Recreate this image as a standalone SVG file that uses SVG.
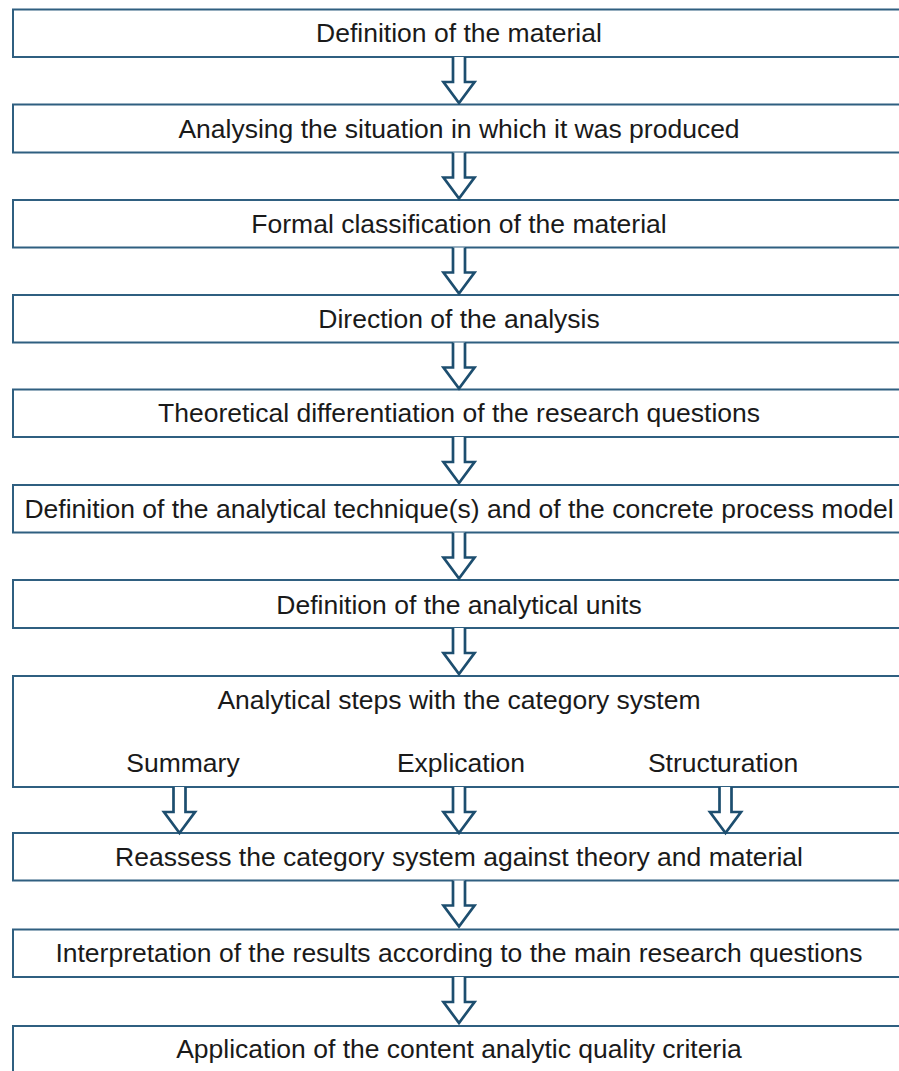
<svg xmlns="http://www.w3.org/2000/svg" xmlns:xlink="http://www.w3.org/1999/xlink" width="899" height="1071" viewBox="0 0 899 1071">
<style>
.box{fill:#ffffff;stroke:#2f5f80;stroke-width:2}
.arr{fill:#ffffff;stroke:#1d4e6f;stroke-width:2.7;stroke-linejoin:miter}
text{font-family:"Liberation Sans",Arial,sans-serif;font-size:26.5px;fill:#1a1a1a;text-anchor:middle}
</style>
<defs>
<path id="a" d="M -6 0 V 25 H -15.5 L 0 46 L 15.5 25 H 6 V 0"/>
</defs>
<rect width="899" height="1071" fill="#ffffff"/>
<g id="n1"><rect class="box" x="13" y="9.5" width="900" height="47.5"/><text x="459" y="42">Definition of the material</text></g>
<g id="n2"><rect class="box" x="13" y="104.5" width="900" height="48"/><text x="459" y="138">Analysing the situation in which it was produced</text></g>
<g id="n3"><rect class="box" x="13" y="200" width="900" height="47.5"/><text x="459" y="233">Formal classification of the material</text></g>
<g id="n4"><rect class="box" x="13" y="295" width="900" height="47.5"/><text x="459" y="328">Direction of the analysis</text></g>
<g id="n5"><rect class="box" x="13" y="389.5" width="900" height="47.5"/><text x="459" y="422">Theoretical differentiation of the research questions</text></g>
<g id="n6"><rect class="box" x="13" y="485" width="900" height="47.5"/><text x="459" y="518">Definition of the analytical technique(s) and of the concrete process model</text></g>
<g id="n7"><rect class="box" x="13" y="580" width="900" height="48"/><text x="459" y="614">Definition of the analytical units</text></g>
<g id="n8"><rect class="box" x="13" y="676" width="900" height="111"/><text x="459" y="709">Analytical steps with the category system</text><text x="183" y="772">Summary</text><text x="461" y="772">Explication</text><text x="723" y="772">Structuration</text></g>
<g id="n9"><rect class="box" x="13" y="833" width="900" height="47.5"/><text x="459" y="866">Reassess the category system against theory and material</text></g>
<g id="n10"><rect class="box" x="13" y="929.5" width="900" height="47.5"/><text x="459" y="962">Interpretation of the results according to the main research questions</text></g>
<g id="n11"><rect class="box" x="13" y="1026" width="900" height="60"/><text x="459" y="1058">Application of the content analytic quality criteria</text></g>
<g id="connectors">
<use href="#a" class="arr" x="459" y="57"/>
<use href="#a" class="arr" x="459" y="152.5"/>
<use href="#a" class="arr" x="459" y="247.5"/>
<use href="#a" class="arr" x="459" y="342.5"/>
<use href="#a" class="arr" x="459" y="437"/>
<use href="#a" class="arr" x="459" y="532.5"/>
<use href="#a" class="arr" x="459" y="628"/>
<use href="#a" class="arr" x="179.5" y="787"/>
<use href="#a" class="arr" x="459" y="787"/>
<use href="#a" class="arr" x="725.5" y="787"/>
<use href="#a" class="arr" x="459" y="880.5"/>
<use href="#a" class="arr" x="459" y="977"/>
</g>
</svg>
